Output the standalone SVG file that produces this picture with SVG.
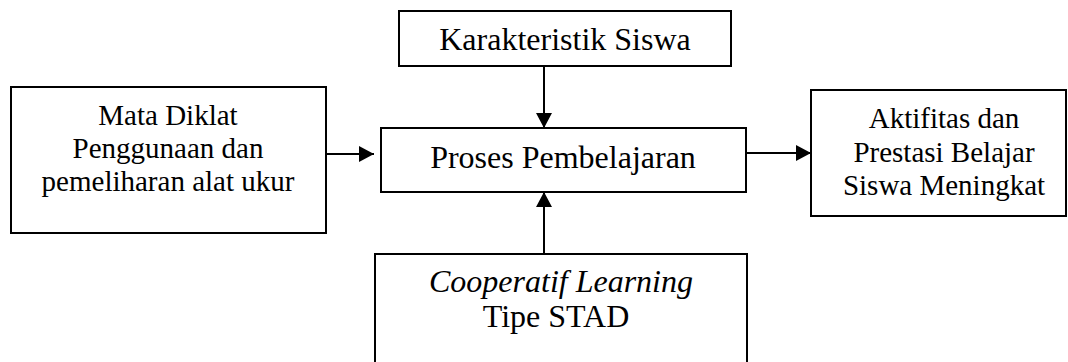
<svg xmlns="http://www.w3.org/2000/svg" width="1068" height="362" viewBox="0 0 1068 362">
<style>
.box{fill:#fff;stroke:#000;stroke-width:2}
.t{font-family:"Liberation Serif","Times New Roman",serif;fill:#000;text-anchor:middle}
.l{font-size:32px}
.s{font-size:29px}
.c{stroke:#000;stroke-width:2;fill:none}
</style>
<defs>
<marker id="ah" markerUnits="userSpaceOnUse" markerWidth="16" markerHeight="16" refX="15" refY="8" orient="auto">
<path d="M0,0 L15,8 L0,16 z" fill="#000"/>
</marker>
</defs>
<rect width="1068" height="362" fill="#fff"/>
<g id="mata-diklat">
<rect class="box" x="11" y="87" width="315" height="146"/>
<text class="t s" x="168" y="125">Mata Diklat</text>
<text class="t s" x="168" y="158">Penggunaan dan</text>
<text class="t s" x="168" y="191">pemeliharan alat ukur</text>
</g>
<g id="karakteristik">
<rect class="box" x="399" y="11" width="332" height="55"/>
<text class="t l" x="565" y="50">Karakteristik Siswa</text>
</g>
<g id="proses">
<rect class="box" x="381" y="128" width="365" height="64"/>
<text class="t l" x="563" y="168">Proses Pembelajaran</text>
</g>
<g id="aktifitas">
<rect class="box" x="811" y="90" width="255" height="126"/>
<text class="t s" x="944" y="128">Aktifitas dan</text>
<text class="t s" x="944" y="162">Prestasi Belajar</text>
<text class="t s" x="944" y="195">Siswa Meningkat</text>
</g>
<g id="cooperatif">
<rect class="box" x="375" y="254" width="372" height="120"/>
<text class="t l" x="561" y="292" font-style="italic">Cooperatif Learning</text>
<text class="t l" x="556" y="327">Tipe STAD</text>
</g>
<g id="connectors">
<line class="c" x1="326" y1="154" x2="374" y2="154" marker-end="url(#ah)"/>
<line class="c" x1="544" y1="66" x2="544" y2="128" marker-end="url(#ah)"/>
<line class="c" x1="544" y1="254" x2="544" y2="192" marker-end="url(#ah)"/>
<line class="c" x1="746" y1="153" x2="811" y2="153" marker-end="url(#ah)"/>
</g>
</svg>
